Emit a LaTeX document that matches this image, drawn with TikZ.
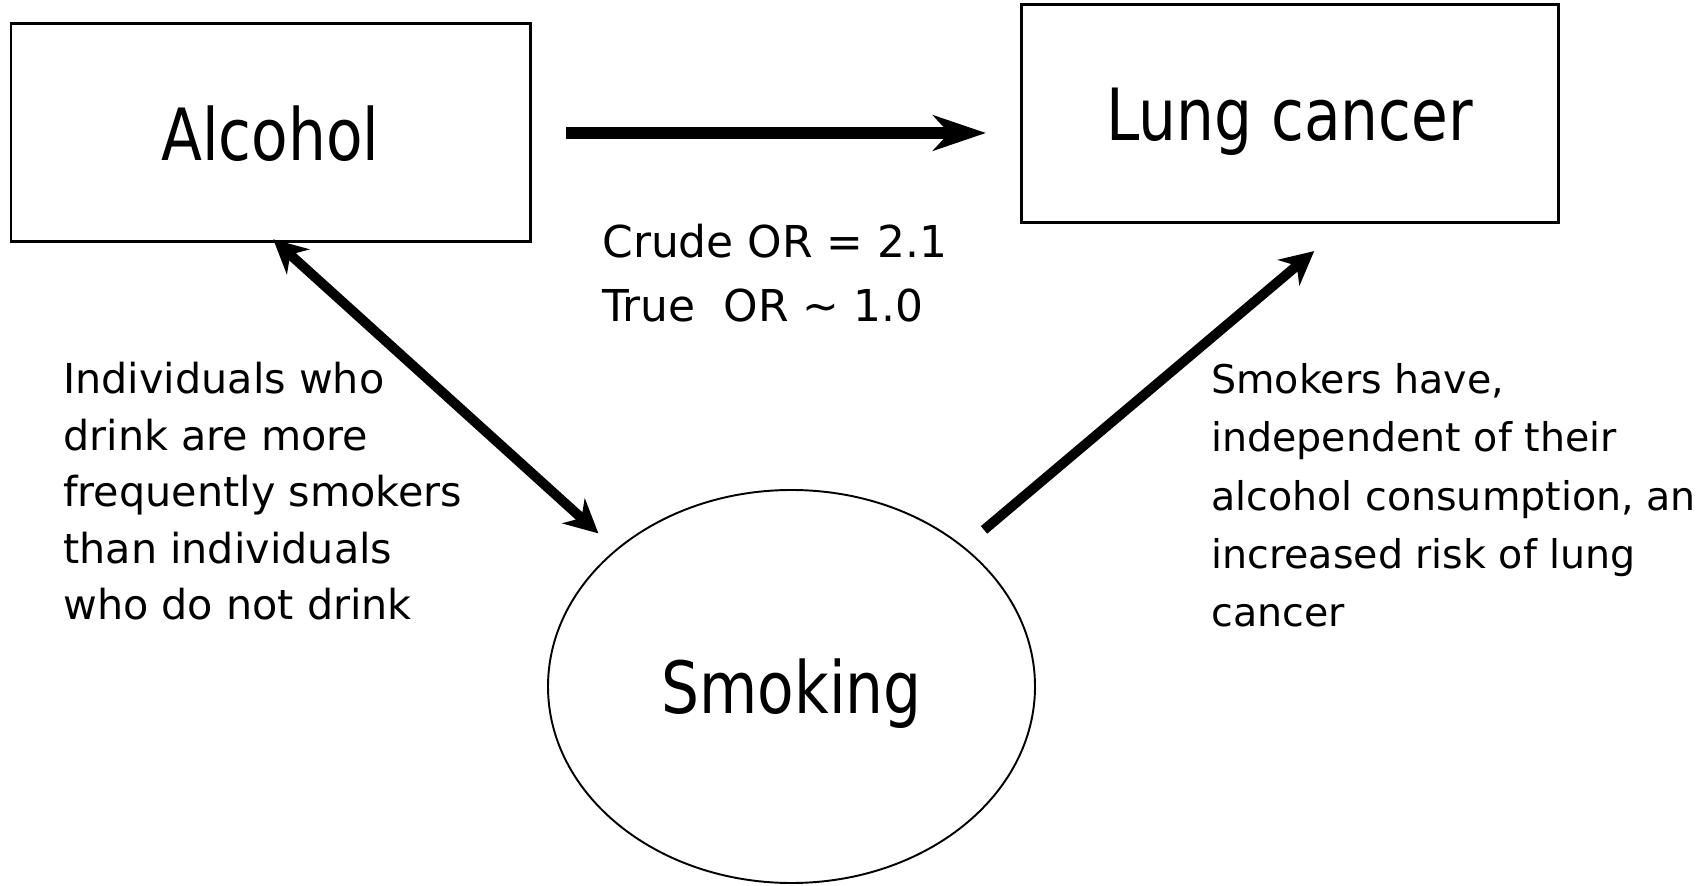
\documentclass[tikz,border=0pt]{standalone}
\usepackage{fontspec}
\setmainfont{DejaVu Sans}
\newfontfamily\labelfont[FakeStretch=0.83]{DejaVu Sans}
\usetikzlibrary{arrows.meta, calc, shapes.geometric}
\tikzset{
  factor box/.style={
    rectangle,
    draw,
    line width=1.7pt,
    inner sep=0pt,
    outer sep=0pt,
    text depth=0pt,
    font=\labelfont\fontsize{41pt}{49pt}\selectfont
  },
  factor ellipse/.style={
    ellipse,
    draw,
    line width=1.1pt,
    inner sep=0pt,
    outer sep=0pt,
    text depth=0pt,
    minimum width=9.74cm,
    minimum height=7.86cm,
    font=\labelfont\fontsize{41pt}{49pt}\selectfont
  },
  main arrow/.style={
    -{Stealth[length=30pt, width=20pt, inset=9pt]},
    line width=6.8pt
  },
  link arrow/.style={
    line width=5.6pt
  },
  note text/.style={
    align=left,
    inner sep=0pt,
    anchor=base west,
    font=\fontsize{23.5pt}{32.2pt}\selectfont
  },
  ratio text/.style={
    align=left,
    inner sep=0pt,
    anchor=base west,
    font=\fontsize{25pt}{36.9pt}\selectfont
  }
}

\begin{document}
\begin{tikzpicture}[>={Stealth[length=19pt, width=19pt, inset=6pt]}]

  \useasboundingbox (0, 0) rectangle (34.16, 17.7);

  %% ---- the three factors ----
  \node[factor box, minimum width=10.38cm, minimum height=4.36cm]
      (alcohol) at (5.41, 15.04) {Alcohol};
  \node[factor box, minimum width=10.74cm, minimum height=4.36cm]
      (lung) at (25.79, 15.42) {Lung cancer};
  \node[factor ellipse] (smoking) at (15.83, 3.97) {Smoking};

  %% ---- crude association ----
  \draw[main arrow, shorten <=0.72cm, shorten >=0.7cm]
      (alcohol.east) -- (alcohol.east -| lung.west);
  % anchored at the last line
  \node[ratio text] (ratio) at (12.04, 11.26)
      {Crude OR = 2.1\\True\ \ OR \textasciitilde{} 1.0};

  %% ---- smoking linked to drinking ----
  \draw[link arrow, <->, shorten <=-0.08cm, shorten >=0.49cm]
      (alcohol.-87) -- (smoking.142);
  \node[note text] (drinkers) at (1.26, 5.3)
      {Individuals who\\drink are more\\frequently smokers\\than individuals\\who do not drink};

  %% ---- smoking causes lung cancer ----
  \draw[link arrow, ->, shorten <=0.54cm, shorten >=0.87cm]
      (smoking.39) -- (lung.-62.6);
  \node[note text, font=\fontsize{22.5pt}{33.2pt}\selectfont] (risk) at (24.22, 5.16)
      {Smokers have,\\independent of their\\alcohol consumption, an\\increased risk of lung\\cancer};

\end{tikzpicture}
\end{document}
